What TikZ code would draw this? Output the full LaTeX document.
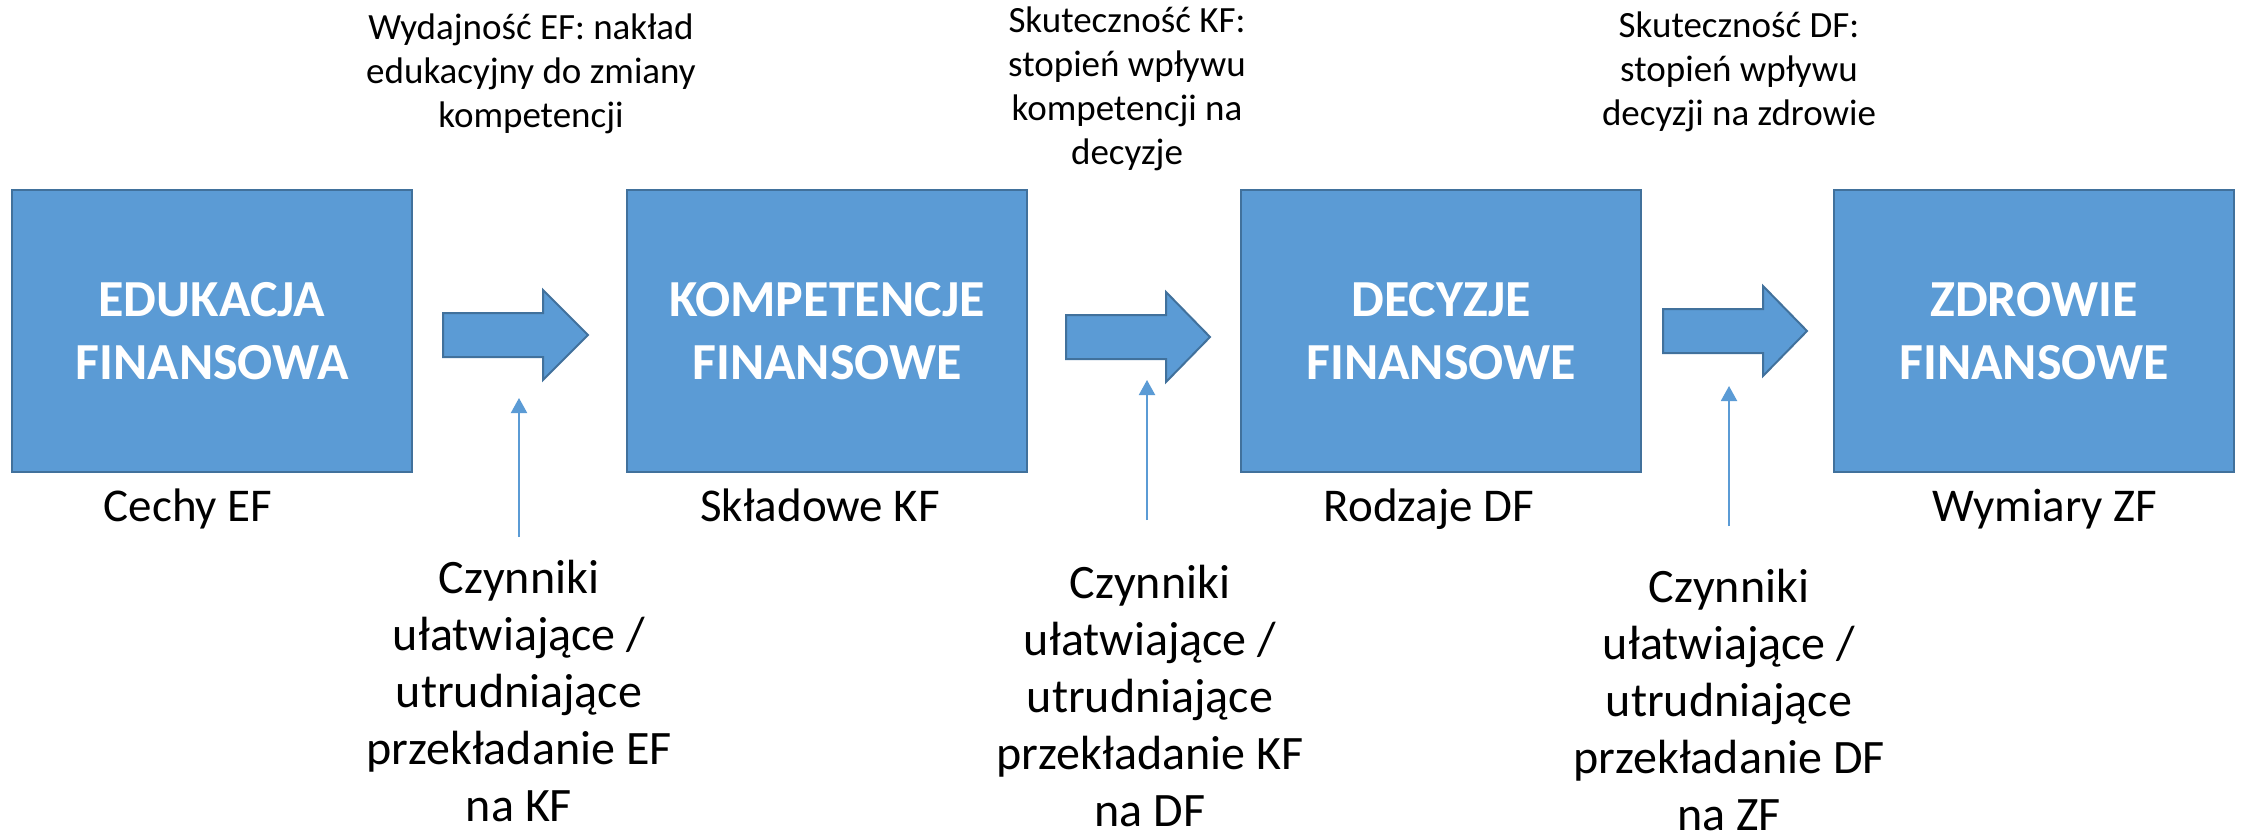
\documentclass[tikz,border=0pt]{standalone}
\usepackage{fontspec}
\setmainfont{Carlito}
\usetikzlibrary{arrows.meta}
\definecolor{boxfill}{HTML}{5B9BD5}
\definecolor{boxline}{HTML}{41719C}
\begin{document}
\begin{tikzpicture}[x=1pt,y=-1pt,
  stagebox/.style={rectangle,draw=boxline,line width=2pt,fill=boxfill,minimum width=400pt,minimum height=282pt,inner sep=0pt,align=center,text=white,font=\bfseries\fontsize{52}{63}\selectfont},
  toplabel/.style={anchor=base,align=center,inner sep=0pt,font=\fontsize{37}{44}\selectfont},
  sublabel/.style={anchor=base,align=center,inner sep=0pt,font=\fontsize{47}{57}\selectfont},
  factorlabel/.style={anchor=base,align=center,inner sep=0pt,font=\fontsize{48}{57}\selectfont},
  blockarrow/.style={draw=boxline,line width=2pt,fill=boxfill,line join=miter},
  thinarrow/.style={draw=boxfill,line width=2pt,-{Triangle[width=16pt,length=15pt]}}
]
\useasboundingbox (0,0) rectangle (2241,837);

% stage boxes
\node[stagebox] (ef) at (212,331) {EDUKACJA\\FINANSOWA};
\node[stagebox] (kf) at (827,331) {KOMPETENCJE\\FINANSOWE};
\node[stagebox] (df) at (1441,331) {DECYZJE\\FINANSOWE};
\node[stagebox] (zf) at (2034,331) {ZDROWIE\\FINANSOWE};

% block arrows
\draw[blockarrow,shift={(443,335)}] (0,-22) -- (100,-22) -- (100,-45) -- (145,0) -- (100,45) -- (100,22) -- (0,22) -- cycle;
\draw[blockarrow,shift={(1066,337)}] (0,-22) -- (100,-22) -- (100,-45) -- (144,0) -- (100,45) -- (100,22) -- (0,22) -- cycle;
\draw[blockarrow,shift={(1663,331)}] (0,-22) -- (100,-22) -- (100,-45) -- (144,0) -- (100,45) -- (100,22) -- (0,22) -- cycle;

% top labels (anchor = baseline of last line)
\node[toplabel] (t1) at (531,128) {Wydajność EF: nakład\\edukacyjny do zmiany\\kompetencji};
\node[toplabel] (t2) at (1127,165) {Skuteczność KF:\\stopień wpływu\\kompetencji na\\decyzje};
\node[toplabel] (t3) at (1739,126) {Skuteczność DF:\\stopień wpływu\\decyzji na zdrowie};

% labels under boxes
\node[sublabel] (s1) at (188,521) {Cechy EF};
\node[sublabel] (s2) at (820,521) {Składowe KF};
\node[sublabel] (s3) at (1429,521) {Rodzaje DF};
\node[sublabel] (s4) at (2045,521) {Wymiary ZF};

% factor labels (anchor = baseline of last line)
\node[factorlabel] (c1) at (519,821) {Czynniki\\ułatwiające /\\utrudniające\\przekładanie EF\\na KF};
\node[factorlabel] (c2) at (1150,826) {Czynniki\\ułatwiające /\\utrudniające\\przekładanie KF\\na DF};
\node[factorlabel] (c3) at (1729,830) {Czynniki\\ułatwiające /\\utrudniające\\przekładanie DF\\na ZF};

% thin arrows
\coordinate (v1s) at (519,537); \coordinate (v1e) at (519,398);
\coordinate (v2s) at (1147,520); \coordinate (v2e) at (1147,380);
\coordinate (v3s) at (1729,526); \coordinate (v3e) at (1729,386);
\draw[thinarrow] (v1s) -- (v1e);
\draw[thinarrow] (v2s) -- (v2e);
\draw[thinarrow] (v3s) -- (v3e);
\end{tikzpicture}
\end{document}
